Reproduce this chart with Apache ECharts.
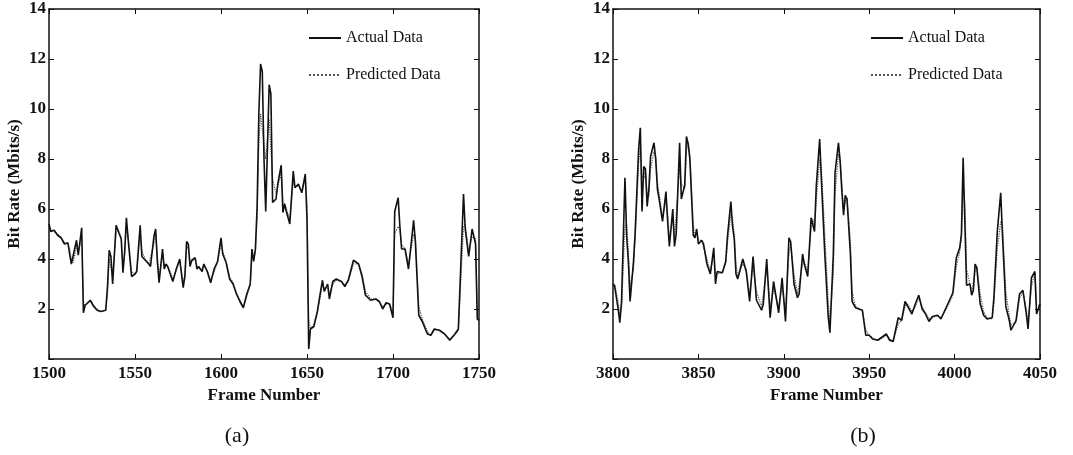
<!DOCTYPE html>
<html>
    <head>
        <meta charset='utf-8'>
        <title>Bit Rate</title>
        <script src='https://cdn.jsdelivr.net/npm/echarts@6/dist/echarts.min.js'></script>
    </head>

    <body style='margin:0;background:#fff;'>
    <div id='main' style='width: 1073px;height:455px;'></div>

    <script type='text/javascript'>
    // (a) frames 1500-1750
    var framesA = [1500,1501,1503,1505,1507,1509,1511,1512,1513,1514,1516,1517,1518,1519,1520,1521,1522,1524,1526,1528,1530,1533,1534,1535,1536,1537,1539,1540,1542,1543,1544,1545,1546,1548,1550,1551,1553,1554,1556,1558,1559,1561,1562,1563,1564,1566,1567,1568,1569,1571,1572,1574,1576,1578,1579,1580,1581,1582,1583,1585,1586,1587,1589,1590,1592,1594,1596,1598,1600,1601,1603,1605,1607,1609,1611,1613,1615,1617,1618,1619,1620,1621,1622,1623,1624,1625,1626,1628,1629,1630,1632,1633,1635,1636,1637,1638,1640,1642,1643,1645,1647,1649,1650,1651,1652,1654,1656,1658,1659,1660,1662,1663,1665,1667,1670,1672,1674,1675,1677,1680,1682,1684,1687,1690,1692,1694,1696,1698,1700,1701,1703,1704,1705,1707,1709,1712,1713,1715,1717,1720,1722,1724,1727,1730,1733,1736,1738,1741,1742,1744,1746,1748,1749,1750];
    var actualA = [5.4,5.1,5.15,4.95,4.85,4.6,4.65,4.2,3.8,3.85,4.75,4.15,4.7,5.25,1.85,2.15,2.2,2.35,2.1,1.95,1.9,1.95,2.9,4.35,4.1,3.0,5.35,5.3,4.8,3.45,4.3,5.65,4.8,3.3,3.4,3.5,5.35,4.1,3.95,3.8,3.7,4.9,5.2,3.9,3.05,4.4,3.6,3.8,3.7,3.3,3.1,3.6,4.0,2.85,3.3,4.7,4.6,3.7,3.95,4.05,3.6,3.7,3.5,3.8,3.5,3.05,3.6,3.9,4.85,4.2,3.85,3.2,3.0,2.6,2.3,2.05,2.6,3.0,4.4,3.9,4.4,6.1,9.8,11.8,11.5,8.0,5.9,10.97,10.6,6.26,6.4,7.0,7.75,5.86,6.2,5.9,5.4,7.52,6.85,7.0,6.65,7.4,5.6,0.4,1.2,1.3,1.9,2.75,3.15,2.7,3.0,2.4,3.1,3.2,3.1,2.9,3.15,3.15,3.95,3.8,3.3,2.55,2.35,2.4,2.3,2.0,2.25,2.2,1.65,5.9,6.45,5.3,4.4,4.4,3.6,5.55,4.7,1.75,1.5,1.0,0.95,1.2,1.15,1.0,0.75,1.0,1.2,6.6,5.2,4.1,5.2,4.6,1.6,1.55];
    var predictedA = [5.3,5.2,5.1,5.0,4.85,4.65,4.6,4.4,3.95,3.85,4.5,4.3,4.55,4.95,2.3,2.1,2.2,2.3,2.15,2.0,1.9,1.95,2.6,4.0,4.0,3.3,5.0,5.2,4.85,3.7,4.2,5.3,4.9,3.5,3.4,3.5,5.0,4.3,4.0,3.8,3.75,4.6,5.0,4.1,3.3,4.2,3.75,3.75,3.7,3.4,3.2,3.55,3.9,3.1,3.3,4.4,4.5,3.85,3.9,4.0,3.7,3.7,3.55,3.75,3.55,3.15,3.5,3.85,4.6,4.3,3.9,3.3,3.05,2.65,2.35,2.1,2.5,2.95,4.1,4.0,4.3,5.6,8.6,9.8,9.8,8.6,8.0,9.6,9.6,7.2,6.6,6.9,7.4,6.3,6.2,6.0,5.6,7.1,6.9,6.9,6.7,7.2,6.2,1.6,1.2,1.4,1.85,2.6,3.0,2.8,2.95,2.6,3.0,3.15,3.1,2.95,3.1,3.15,3.8,3.8,3.4,2.7,2.4,2.4,2.3,2.1,2.2,2.2,1.85,5.0,5.3,5.2,4.6,4.4,3.8,5.0,4.9,2.1,1.6,1.1,0.95,1.15,1.15,1.0,0.8,0.95,1.15,5.3,5.4,4.3,4.9,4.8,2.0,1.6];

    // (b) frames 3800-4050
    var framesB = [3800,3801,3803,3804,3805,3807,3808,3809,3810,3812,3813,3815,3816,3817,3818,3819,3820,3821,3822,3824,3825,3826,3827,3829,3831,3832,3833,3835,3836,3837,3839,3840,3842,3843,3844,3845,3847,3848,3849,3850,3852,3853,3855,3857,3859,3860,3861,3864,3866,3867,3869,3870,3871,3872,3873,3876,3878,3880,3882,3884,3887,3888,3890,3892,3894,3897,3899,3901,3903,3904,3906,3908,3909,3911,3912,3914,3916,3917,3918,3919,3921,3922,3924,3926,3927,3929,3930,3932,3933,3934,3935,3936,3937,3939,3940,3942,3944,3946,3948,3950,3952,3955,3958,3960,3962,3964,3965,3967,3969,3971,3972,3975,3977,3979,3981,3983,3985,3987,3990,3992,3996,3999,4001,4003,4004,4005,4006,4007,4009,4010,4011,4012,4013,4015,4017,4019,4022,4023,4025,4027,4028,4030,4032,4033,4036,4038,4040,4042,4043,4045,4047,4048,4050];
    var actualB = [3.0,2.9,2.0,1.45,2.3,7.25,4.9,3.9,2.3,3.9,5.1,8.4,9.25,5.9,7.7,7.6,6.1,6.8,8.1,8.65,8.0,6.8,6.4,5.5,6.7,5.5,4.5,6.0,4.5,5.0,8.65,6.4,6.95,8.9,8.6,8.0,4.95,4.85,5.2,4.6,4.75,4.6,3.8,3.4,4.45,3.0,3.5,3.45,3.9,4.9,6.3,5.3,4.8,3.4,3.2,4.0,3.5,2.3,4.1,2.35,1.95,2.2,4.0,1.65,3.1,1.85,3.25,1.5,4.85,4.7,3.0,2.45,2.6,4.2,3.8,3.3,5.65,5.7,5.1,6.9,8.8,7.2,4.2,1.7,1.05,4.2,7.45,8.65,7.9,6.7,5.75,6.55,6.4,4.2,2.3,2.05,2.0,1.95,0.95,0.95,0.8,0.75,0.9,1.0,0.75,0.7,0.75,1.65,1.55,2.3,2.25,1.8,2.2,2.55,2.0,1.8,1.5,1.7,1.75,1.6,2.2,2.65,4.05,4.45,5.0,8.05,5.5,2.95,3.0,2.55,2.75,3.8,3.65,2.2,1.75,1.6,1.65,2.45,5.1,6.65,5.0,2.1,1.55,1.15,1.55,2.6,2.75,1.8,1.2,3.25,3.5,1.8,2.2];
    var predictedB = [2.9,3.0,2.3,1.8,2.0,5.3,5.4,4.3,2.9,3.6,4.8,7.8,8.5,7.3,7.2,7.5,6.6,6.5,7.6,8.3,8.1,7.1,6.6,5.7,6.3,5.8,4.8,5.6,4.9,4.9,7.6,7.0,6.8,8.3,8.7,8.2,5.4,4.9,5.0,4.8,4.7,4.65,4.0,3.5,4.2,3.4,3.4,3.45,3.8,4.6,5.8,5.6,5.0,3.8,3.3,3.8,3.6,2.6,3.7,2.7,2.1,2.1,3.6,2.1,2.8,2.1,2.9,1.9,4.2,4.6,3.4,2.6,2.55,3.8,3.9,3.5,5.2,5.6,5.3,6.3,8.0,7.6,5.0,2.3,1.5,3.4,6.6,8.2,8.0,7.0,6.0,6.3,6.45,4.7,2.7,2.1,2.0,1.95,1.15,0.95,0.85,0.75,0.85,0.95,0.8,0.72,0.72,1.4,1.55,2.1,2.25,1.9,2.1,2.45,2.1,1.85,1.6,1.65,1.75,1.65,2.1,2.55,3.7,4.3,4.8,6.8,6.2,3.6,3.0,2.7,2.7,3.5,3.7,2.6,1.9,1.65,1.6,2.2,4.4,5.5,5.4,2.7,1.75,1.35,1.45,2.4,2.7,2.0,1.45,2.9,3.4,2.2,2.1];

    var yTicks = ['', '2', '4', '6', '8', '10', '12', '14'];

    function pairs(xs, ys) {
        return xs.map(function (x, i) { return [x, ys[i]]; });
    }

    var font = 'Liberation Serif';
    var ink = '#111';

    function xAxisFor(grid, min, max, top) {
        return {
            type: 'value', gridIndex: grid, min: min, max: max, interval: 50,
            position: top ? 'top' : 'bottom',
            name: top ? '' : 'Frame Number',
            nameLocation: 'middle', nameGap: 27,
            nameTextStyle: { fontFamily: font, fontSize: 17, fontWeight: 'bold', color: ink },
            axisLine: { show: true, onZero: false, lineStyle: { color: ink, width: 1.5 } },
            axisTick: { inside: true, length: 5, lineStyle: { color: ink } },
            axisLabel: {
                show: !top, margin: 6, fontFamily: font, fontSize: 17, fontWeight: 'bold', color: ink,
                formatter: function (v) { return String(v); }
            },
            splitLine: { show: false }
        };
    }

    function yAxisFor(grid, right) {
        return {
            type: 'value', gridIndex: grid, min: 0, max: 14, interval: 2,
            position: right ? 'right' : 'left',
            name: right ? '' : 'Bit Rate (Mbits/s)',
            nameLocation: 'middle', nameGap: 26, nameRotate: 90,
            nameTextStyle: { fontFamily: font, fontSize: 17, fontWeight: 'bold', color: ink },
            axisLine: { show: true, onZero: false, lineStyle: { color: ink, width: 1.5 } },
            axisTick: { inside: true, length: 5, lineStyle: { color: ink } },
            axisLabel: {
                show: !right, margin: 3, fontFamily: font, fontSize: 17, fontWeight: 'bold', color: ink,
                formatter: function (v) { return yTicks[Math.round(v / 2)]; }
            },
            splitLine: { show: false }
        };
    }

    function actualSeries(x, y, data) {
        return {
            name: 'Actual Data', type: 'line', xAxisIndex: x, yAxisIndex: y,
            data: data, symbol: 'none', animation: false,
            itemStyle: { color: ink },
            lineStyle: { color: ink, width: 1.6 }
        };
    }

    function predictedSeries(x, y, data) {
        return {
            name: 'Predicted Data', type: 'line', xAxisIndex: x, yAxisIndex: y,
            data: data, symbol: 'none', animation: false,
            itemStyle: { color: '#555' },
            lineStyle: { color: '#555', width: 1.2, type: 'dotted' }
        };
    }

    function legendAt(left) {
        return {
            orient: 'vertical', left: left, top: 25,
            itemWidth: 32, itemHeight: 14, itemGap: 21,
            itemStyle: { opacity: 0 },
            textStyle: { fontFamily: font, fontSize: 16, color: ink },
            data: ['Actual Data', 'Predicted Data'],
            selectedMode: false
        };
    }

    var myChart = echarts.init(document.getElementById('main'));

    var option = {
        backgroundColor: '#fff',
        grid: [
            { left: 49, top: 9, width: 430, height: 350 },
            { left: 613, top: 9, width: 427, height: 350 }
        ],
        xAxis: [
            xAxisFor(0, 1500, 1750, false),
            xAxisFor(0, 1500, 1750, true),
            xAxisFor(1, 3800, 4050, false),
            xAxisFor(1, 3800, 4050, true)
        ],
        yAxis: [
            yAxisFor(0, false),
            yAxisFor(0, true),
            yAxisFor(1, false),
            yAxisFor(1, true)
        ],
        legend: [legendAt(303), legendAt(865)],
        title: [
            { text: '(a)', left: 232, top: 420, textAlign: 'center',
              textStyle: { fontFamily: font, fontSize: 22, fontWeight: 'normal', color: ink } },
            { text: '(b)', left: 858, top: 420, textAlign: 'center',
              textStyle: { fontFamily: font, fontSize: 22, fontWeight: 'normal', color: ink } }
        ],
        series: [
            predictedSeries(0, 0, pairs(framesA, predictedA)),
            actualSeries(0, 0, pairs(framesA, actualA)),
            predictedSeries(2, 2, pairs(framesB, predictedB)),
            actualSeries(2, 2, pairs(framesB, actualB))
        ]
    };

    myChart.setOption(option);
    </script>
    </body>
</html>
